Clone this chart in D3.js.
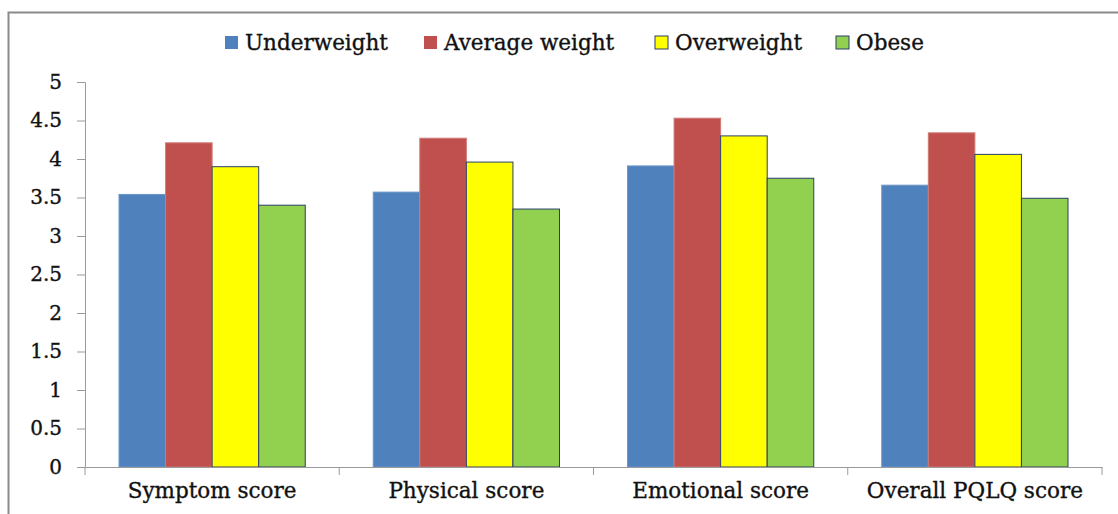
<!DOCTYPE html>
<html>
<head>
<meta charset="utf-8">
<script src="https://cdn.jsdelivr.net/npm/d3@7"></script>
<style>
  body { margin: 0; background: #fff; }
  text { font-family: "DejaVu Serif", "Liberation Serif", serif; fill: #111; stroke: #111; stroke-width: 0.35px; }
</style>
</head>
<body>
<script>
var categories = ["Symptom score", "Physical score", "Emotional score", "Overall PQLQ score"];
var seriesNames = ["Underweight", "Average weight", "Overweight", "Obese"];
var underweight = [3.54, 3.57, 3.91, 3.66];
var averageWeight = [4.21, 4.27, 4.53, 4.34];
var overweight = [3.90, 3.96, 4.30, 4.06];
var obese = [3.40, 3.35, 3.75, 3.49];
var yTicks = [0, 0.5, 1, 1.5, 2, 2.5, 3, 3.5, 4, 4.5, 5];

var colors = ["#4f81bd", "#c0504d", "#ffff00", "#92d050"];
var strokes = ["#6d95c8", "#cf7a77", "#2c3e6b", "#2c3e6b"];
var allSeries = [underweight, averageWeight, overweight, obese];

var width = 1118, height = 514;
var svg = d3.select("body").append("svg")
            .attr("width", width)
            .attr("height", height);

// outer frame
svg.append("rect")
   .attr("x", 8.5).attr("y", 12.5)
   .attr("width", 1120).attr("height", 520)
   .attr("fill", "none")
   .attr("stroke", "#8a8a8a")
   .attr("stroke-width", 2);

var x0 = d3.scaleBand().domain(categories).range([85, 1102]);
var x1 = d3.scaleBand().domain(seriesNames).range([34, x0.bandwidth() - 34]);
var y = d3.scaleLinear().domain([0, 5]).range([467, 82]);

var groups = svg.selectAll("g.group")
                .data(categories)
                .enter()
                .append("g")
                .attr("class", "group")
                .attr("transform", function(d) { return "translate(" + x0(d) + ",0)"; });

groups.selectAll("rect")
      .data(function(d, i) {
          return seriesNames.map(function(s, j) { return { s: s, j: j, v: allSeries[j][i] }; });
      })
      .enter()
      .append("rect")
      .attr("x", function(d) { return x1(d.s); })
      .attr("y", function(d) { return y(d.v); })
      .attr("width", x1.bandwidth())
      .attr("height", function(d) { return y(0) - y(d.v); })
      .attr("fill", function(d) { return colors[d.j]; })
      .attr("stroke", function(d) { return strokes[d.j]; })
      .attr("stroke-width", 1);

// y axis
var yAxis = svg.append("g")
   .attr("transform", "translate(85,0)")
   .call(d3.axisLeft(y).tickValues(yTicks).tickSize(8).tickPadding(15)
           .tickFormat(function(d) { return String(d); }));
yAxis.select(".domain").attr("stroke", "#9a9a9a");
yAxis.selectAll(".tick line").attr("stroke", "#9a9a9a");
yAxis.selectAll("text").style("font-size", "20px").attr("fill", "#111");

// x axis
var xAxis = svg.append("g")
   .attr("transform", "translate(0,467)")
   .call(d3.axisBottom(x0).tickSize(0).tickPadding(16));
xAxis.select(".domain").attr("stroke", "#9a9a9a");
xAxis.selectAll("text").style("font-size", "21.5px").attr("fill", "#111");
var boundaries = categories.map(function(c) { return x0(c); }).concat([x0.range()[1]]);
xAxis.selectAll("line.sep")
     .data(boundaries)
     .enter()
     .append("line")
     .attr("class", "sep")
     .attr("x1", function(d) { return d; })
     .attr("x2", function(d) { return d; })
     .attr("y1", 0).attr("y2", 8)
     .attr("stroke", "#9a9a9a");

// legend
var legendX = [225, 424, 655, 836];
var legend = svg.selectAll("g.legend")
                .data(seriesNames)
                .enter()
                .append("g")
                .attr("class", "legend")
                .attr("transform", function(d, i) { return "translate(" + legendX[i] + ",36)"; });
legend.append("rect")
      .attr("width", 13).attr("height", 13)
      .attr("fill", function(d, i) { return colors[i]; })
      .attr("stroke", function(d, i) { return i < 2 ? "none" : "#2c3e6b"; });
legend.append("text")
      .attr("x", 20).attr("y", 14)
      .style("font-size", "21.5px")
      .text(function(d) { return d; });
</script>
</body>
</html>
